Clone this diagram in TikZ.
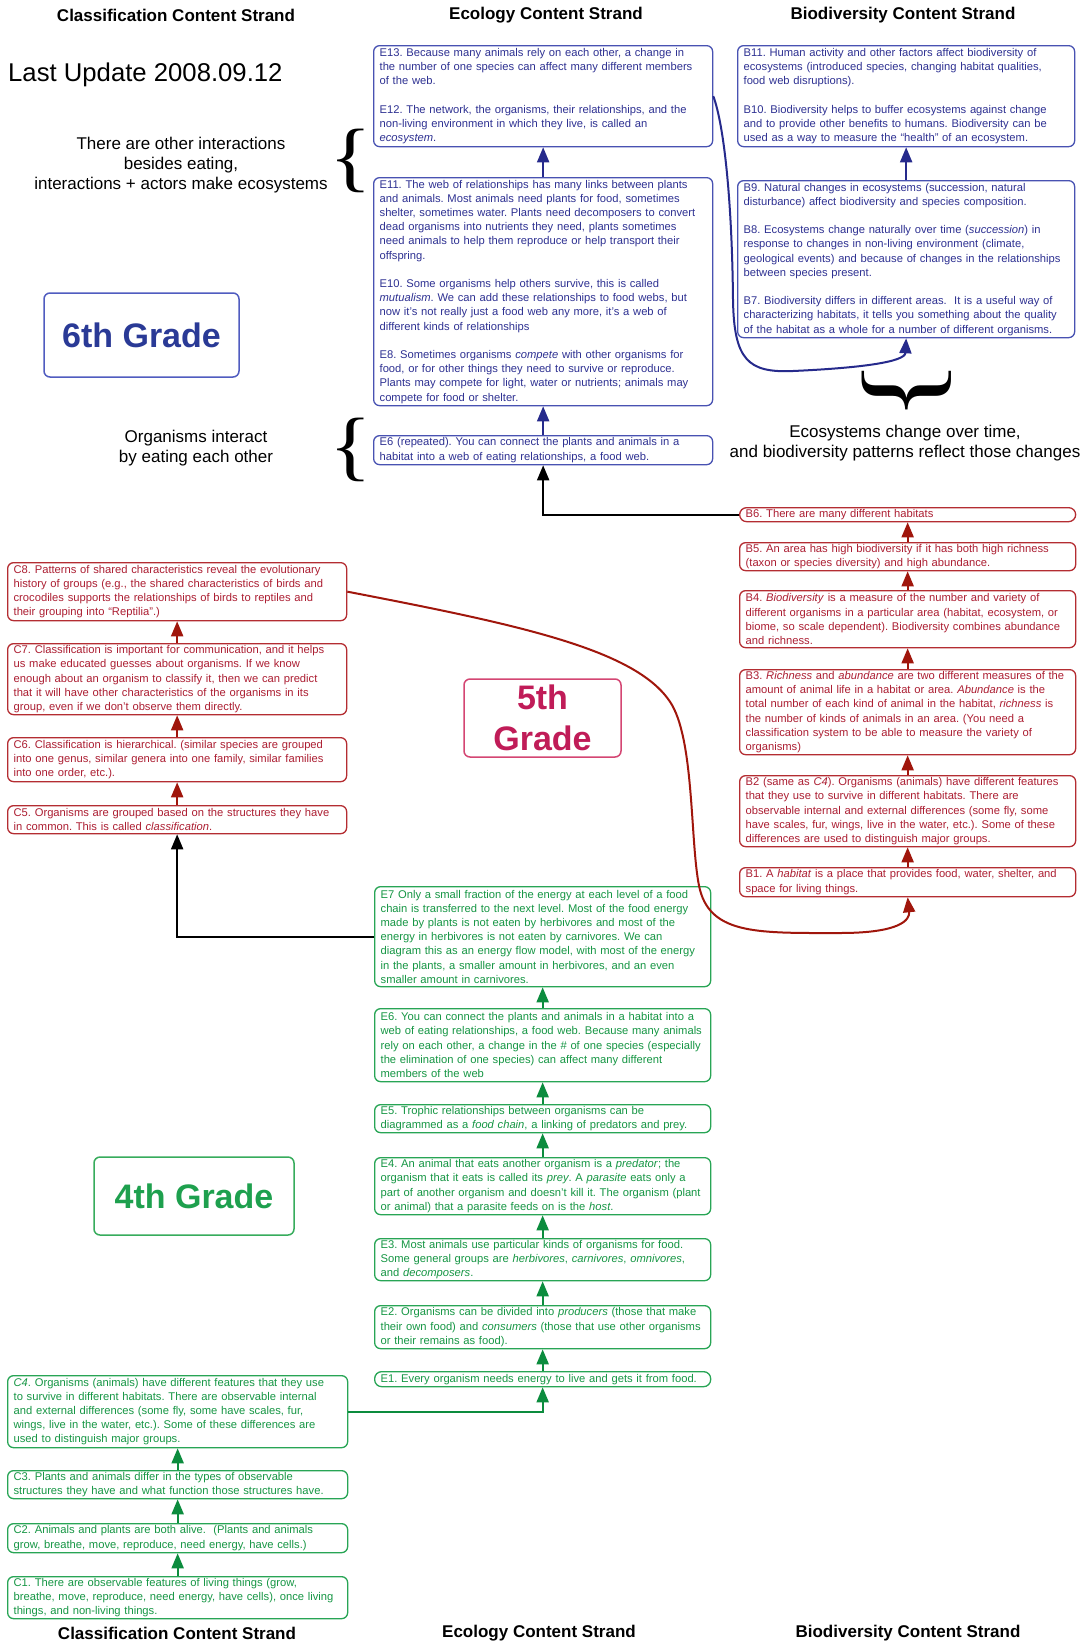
\documentclass[tikz,border=0pt]{standalone}
\usepackage{fontspec}
\setmainfont{Liberation Sans}
\newfontfamily\braceFont{Liberation Serif}
\usetikzlibrary{arrows.meta}
\definecolor{bT}{RGB}{46,49,146}
\definecolor{bL}{RGB}{72,82,178}
\definecolor{bA}{RGB}{38,42,140}
\definecolor{rT}{RGB}{172,30,50}
\definecolor{rL}{RGB}{180,45,50}
\definecolor{rA}{RGB}{160,22,12}
\definecolor{gT}{RGB}{22,150,68}
\definecolor{gL}{RGB}{40,165,85}
\definecolor{gA}{RGB}{12,140,62}
\definecolor{sixT}{RGB}{42,58,150}
\definecolor{sixL}{RGB}{80,92,192}
\definecolor{fivT}{RGB}{192,28,88}
\definecolor{fivL}{RGB}{212,70,115}
\definecolor{fouT}{RGB}{30,160,78}
\definecolor{fouL}{RGB}{55,172,92}
\tikzset{
 tbox/.style={draw, rounded corners=6pt, line width=1.3pt, anchor=north west, inner xsep=6pt, inner ysep=0pt, align=left, font=\fontsize{11.2}{14.2}\selectfont},
 bbox/.style={tbox, draw=bL, text=bT},
 rbox/.style={tbox, draw=rL, text=rT},
 gbox/.style={tbox, draw=gL, text=gT},
 pill/.style={rounded corners=7pt},
 conn/.style={line width=2pt, -{Triangle[length=15pt,width=12pt]}},
 barr/.style={conn, draw=bA},
 rarr/.style={conn, draw=rA},
 garr/.style={conn, draw=gA},
 karr/.style={conn, draw=black},
 headtxt/.style={font=\bfseries\fontsize{17}{20}\selectfont, inner sep=0pt},
 notetxt/.style={font=\fontsize{17}{20}\selectfont, align=center, inner sep=0pt},
 grade/.style={draw, rounded corners=6pt, line width=1.5pt, font=\bfseries\fontsize{34}{41}\selectfont, align=center, inner sep=0pt},
 bracetxt/.style={inner sep=0pt, font=\braceFont\fontsize{77}{77}\selectfont},
}
\begin{document}
\frenchspacing
\begin{tikzpicture}[x=1pt,y=-1pt]
\useasboundingbox (0,0) rectangle (1086,1644);
\fill[white] (0,0) rectangle (1086,1644);

% headings
\node[headtxt] (h1) at (176,15) {Classification Content Strand};
\node[headtxt] (h2) at (546,15) {Ecology Content Strand};
\node[headtxt] (h3) at (903,15) {Biodiversity Content Strand};
\node[headtxt] (f1) at (177,1633) {Classification Content Strand};
\node[headtxt] (f2) at (539,1633) {Ecology Content Strand};
\node[headtxt] (f3) at (908,1633) {Biodiversity Content Strand};

\node[anchor=west, inner sep=0pt, font=\fontsize{25.7}{30}\selectfont] (upd) at (8,75) {Last Update 2008.09.12};

\node[notetxt] (n1) at (181,165) {There are other interactions\\besides eating,\\interactions + actors make ecosystems};
\node[notetxt, font=\fontsize{17}{19.5}\selectfont] (n2) at (196,448) {Organisms interact\\by eating each other};
\node[notetxt] (n3) at (905,443) {Ecosystems change over time,\\and biodiversity patterns reflect those changes};

\node[bracetxt] (br1) at (351,161) {\scalebox{1.15}[1]{\{}};
\node[bracetxt] (br2) at (351,450) {\scalebox{1.15}[1]{\{}};
\node[bracetxt, font=\braceFont\fontsize{108}{108}\selectfont, rotate=-90] (br3) at (907,391) {\scalebox{1.2}[1]{\}}};

% grade labels
\node[grade, draw=sixL, text=sixT, minimum width=195pt, minimum height=84pt] (G6) at (141.5,335) {6th Grade};
\node[grade, draw=fivL, text=fivT, minimum width=157pt, minimum height=78pt] (G5) at (542.5,718) {5th\\Grade};
\node[grade, draw=fouL, text=fouT, minimum width=200pt, minimum height=78pt] (G4) at (194,1196) {4th Grade};

% 6th grade, ecology
\node[bbox, text width=327pt, minimum height=101pt] (E1312) at (373,45) {E13. Because many animals rely on each other, a change in\\the number of one species can affect many different members\\of the web.\\[14.2pt]E12. The network, the organisms, their relationships, and the\\non-living environment in which they live, is called an\\\textit{ecosystem}.};
\node[bbox, text width=327pt, minimum height=228pt] (E118) at (373,177) {E11. The web of relationships has many links between plants\\and animals. Most animals need plants for food, sometimes\\shelter, sometimes water. Plants need decomposers to convert\\dead organisms into nutrients they need, plants sometimes\\need animals to help them reproduce or help transport their\\offspring.\\[14.2pt]E10. Some organisms help others survive, this is called\\\textit{mutualism}. We can add these relationships to food webs, but\\now it’s not really just a food web any more, it’s a web of\\different kinds of relationships\\[14.2pt]E8. Sometimes organisms \textit{compete} with other organisms for\\food, or for other things they need to survive or reproduce.\\Plants may compete for light, water or nutrients; animals may\\compete for food or shelter.};
\node[bbox, text width=327pt, minimum height=29pt] (E6r) at (373,435) {E6 (repeated). You can connect the plants and animals in a\\habitat into a web of eating relationships, a food web.};

% 6th grade, biodiversity
\node[bbox, text width=325pt, minimum height=101pt] (B1110) at (737,45) {B11. Human activity and other factors affect biodiversity of\\ecosystems (introduced species, changing habitat qualities,\\food web disruptions).\\[14.2pt]B10. Biodiversity helps to buffer ecosystems against change\\and to provide other benefits to humans. Biodiversity can be\\used as a way to measure the “health” of an ecosystem.};
\node[bbox, text width=325pt, minimum height=157pt] (B97) at (737,180) {B9. Natural changes in ecosystems (succession, natural\\disturbance) affect biodiversity and species composition.\\[14.2pt]B8. Ecosystems change naturally over time (\textit{succession}) in\\response to changes in non-living environment (climate,\\geological events) and because of changes in the relationships\\between species present.\\[14.2pt]B7. Biodiversity differs in different areas.\ \ It is a useful way of\\characterizing habitats, it tells you something about the quality\\of the habitat as a whole for a number of different organisms.};

% 5th grade, biodiversity
\node[rbox, pill, text width=324pt, minimum height=14pt] (B6) at (739,507) {B6. There are many different habitats};
\node[rbox, text width=324pt, minimum height=28pt] (B5) at (739,542) {B5. An area has high biodiversity if it has both high richness\\(taxon or species diversity) and high abundance.};
\node[rbox, text width=324pt, minimum height=57pt] (B4) at (739,590) {B4. \textit{Biodiversity} is a measure of the number and variety of\\different organisms in a particular area (habitat, ecosystem, or\\biome, so scale dependent). Biodiversity combines abundance\\and richness.};
\node[rbox, text width=324pt, minimum height=85pt] (B3) at (739,669) {B3. \textit{Richness} and \textit{abundance} are two different measures of the\\amount of animal life in a habitat or area. \textit{Abundance} is the\\total number of each kind of animal in the habitat, \textit{richness} is\\the number of kinds of animals in an area. (You need a\\classification system to be able to measure the variety of\\organisms)};
\node[rbox, text width=324pt, minimum height=71pt] (B2) at (739,775) {B2 (same as \textit{C4}). Organisms (animals) have different features\\that they use to survive in different habitats. There are\\observable internal and external differences (some fly, some\\have scales, fur, wings, live in the water, etc.). Some of these\\differences are used to distinguish major groups.};
\node[rbox, text width=324pt, minimum height=29pt] (B1) at (739,867) {B1. A \textit{habitat} is a place that provides food, water, shelter, and\\space for living things.};

% 5th grade, classification
\node[rbox, text width=327pt, minimum height=58pt] (C8) at (7,562) {C8. Patterns of shared characteristics reveal the evolutionary\\history of groups (e.g., the shared characteristics of birds and\\crocodiles supports the relationships of birds to reptiles and\\their grouping into “Reptilia”.)};
\node[rbox, text width=327pt, minimum height=71pt] (C7) at (7,643) {C7. Classification is important for communication, and it helps\\us make educated guesses about organisms. If we know\\enough about an organism to classify it, then we can predict\\that it will have other characteristics of the organisms in its\\group, even if we don’t observe them directly.};
\node[rbox, text width=327pt, minimum height=44pt] (C6) at (7,737) {C6. Classification is hierarchical. (similar species are grouped\\into one genus, similar genera into one family, similar families\\into one order, etc.).};
\node[rbox, text width=327pt, minimum height=28pt] (C5) at (7,805) {C5. Organisms are grouped based on the structures they have\\in common. This is called \textit{classification}.};

% 4th grade, ecology
\node[gbox, text width=324pt, minimum height=100pt] (E7) at (374,886) {E7 Only a small fraction of the energy at each level of a food\\chain is transferred to the next level. Most of the food energy\\made by plants is not eaten by herbivores and most of the\\energy in herbivores is not eaten by carnivores. We can\\diagram this as an energy flow model, with most of the energy\\in the plants, a smaller amount in herbivores, and an even\\smaller amount in carnivores.};
\node[gbox, text width=324pt, minimum height=73pt] (E6) at (374,1008) {E6. You can connect the plants and animals in a habitat into a\\web of eating relationships, a food web. Because many animals\\rely on each other, a change in the \# of one species (especially\\the elimination of one species) can affect many different\\members of the web};
\node[gbox, text width=324pt, minimum height=28pt] (E5) at (374,1104) {E5. Trophic relationships between organisms can be\\diagrammed as a \textit{food chain}, a linking of predators and prey.};
\node[gbox, text width=324pt, minimum height=57pt] (E4) at (374,1157) {E4. An animal that eats another organism is a \textit{predator}; the\\organism that it eats is called its \textit{prey}. A \textit{parasite} eats only a\\part of another organism and doesn’t kill it. The organism (plant\\or animal) that a parasite feeds on is the \textit{host}.};
\node[gbox, text width=324pt, minimum height=42pt] (E3) at (374,1238) {E3. Most animals use particular kinds of organisms for food.\\Some general groups are \textit{herbivores}, \textit{carnivores}, \textit{omnivores},\\and \textit{decomposers}.};
\node[gbox, text width=324pt, minimum height=43pt] (E2) at (374,1305) {E2. Organisms can be divided into \textit{producers} (those that make\\their own food) and \textit{consumers} (those that use other organisms\\or their remains as food).};
\node[gbox, pill, text width=324pt, minimum height=15pt] (E1) at (374,1371) {E1. Every organism needs energy to live and gets it from food.};

% 4th grade, classification
\node[gbox, text width=328pt, minimum height=72pt] (C4) at (7,1375) {\textit{C4}. Organisms (animals) have different features that they use\\to survive in different habitats. There are observable internal\\and external differences (some fly, some have scales, fur,\\wings, live in the water, etc.). Some of these differences are\\used to distinguish major groups.};
\node[gbox, text width=328pt, minimum height=28pt] (C3) at (7,1470) {C3. Plants and animals differ in the types of observable\\structures they have and what function those structures have.};
\node[gbox, text width=328pt, minimum height=29pt] (C2) at (7,1523) {C2. Animals and plants are both alive.\ \ (Plants and animals\\grow, breathe, move, reproduce, need energy, have cells.)};
\node[gbox, text width=328pt, minimum height=42pt] (C1) at (7,1576) {C1. There are observable features of living things (grow,\\breathe, move, reproduce, need energy, have cells), once living\\things, and non-living things.};

% connectors: blue
\draw[barr] (E118.north) -- (E1312.south);
\draw[barr] (E6r.north) -- (E118.south);
\draw[barr] (B97.north) -- (B1110.south);
\draw[barr] (E1312.east) .. controls (724,125) and (732,200) .. (733,300) .. controls (734,360) and (748,373) .. (793,371) .. controls (860,368) and (905,362) .. (B97.south);

% connectors: red
\draw[rarr] (B5.north) -- (B6.south);
\draw[rarr] (B4.north) -- (B5.south);
\draw[rarr] (B3.north) -- (B4.south);
\draw[rarr] (B2.north) -- (B3.south);
\draw[rarr] (B1.north) -- (B2.south);
\draw[rarr] (C7.north) -- (C8.south);
\draw[rarr] (C6.north) -- (C7.south);
\draw[rarr] (C5.north) -- (C6.south);
\draw[rarr] (C8.east) .. controls (520,625) and (640,650) .. (672,705) .. controls (695,745) and (690,850) .. (700,890) .. controls (712,935) and (760,933) .. (840,933) .. controls (900,933) and (910,920) .. (B1.south);

% connectors: green
\draw[garr] (E6.north) -- (E7.south);
\draw[garr] (E5.north) -- (E6.south);
\draw[garr] (E4.north) -- (E5.south);
\draw[garr] (E3.north) -- (E4.south);
\draw[garr] (E2.north) -- (E3.south);
\draw[garr] (E1.north) -- (E2.south);
\draw[garr] (C3.north) -- (C4.south);
\draw[garr] (C2.north) -- (C3.south);
\draw[garr] (C1.north) -- (C2.south);
\draw[garr] (C4.east) -| (E1.south);

% connectors: black
\draw[karr] (B6.west) -| (E6r.south);
\draw[karr] (E7.west) -| (C5.south);
\end{tikzpicture}
\end{document}
